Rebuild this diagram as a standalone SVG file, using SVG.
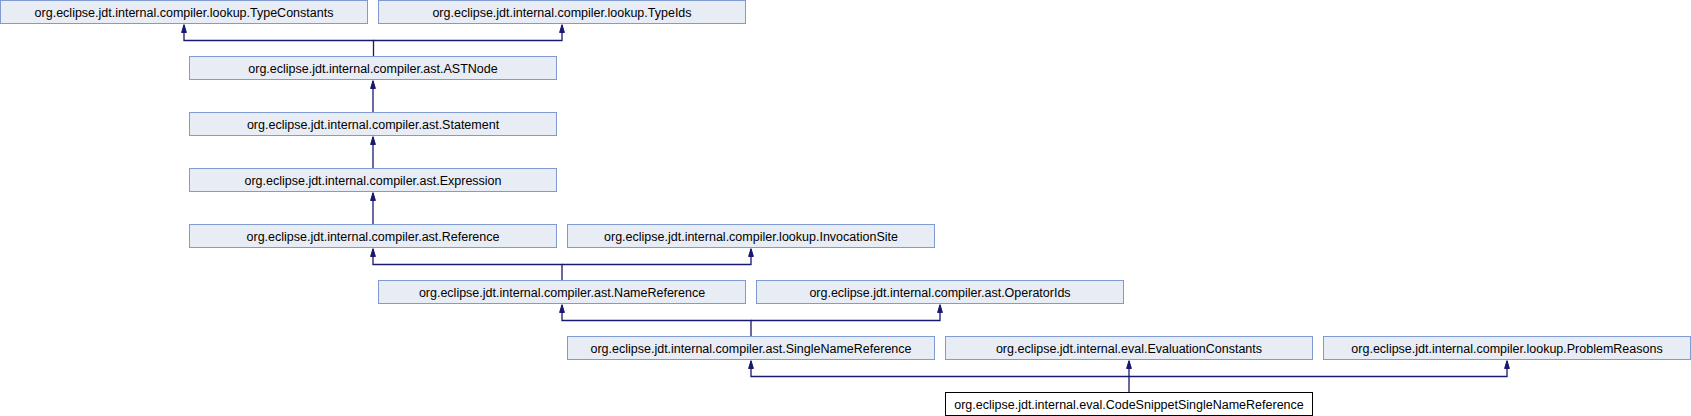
<svg xmlns="http://www.w3.org/2000/svg" width="1691" height="416" viewBox="0 0 1691 416">
<style>
.n rect{fill:#e8ecf5;stroke:#7f9bd2;stroke-width:1}
.n text{font-family:"Liberation Sans",Arial,sans-serif;font-size:12.5px;fill:#000;text-anchor:middle}
#cur rect{fill:#ffffff;stroke:#000000}
.e path{fill:none;stroke:#191970;stroke-width:1.3}
</style>
<defs>
<marker id="ah" markerUnits="userSpaceOnUse" markerWidth="8" markerHeight="10" viewBox="0 0 8 10" refX="8" refY="5" orient="auto">
<path d="M0,2.6 L8,5 L0,7.4 Z" fill="#191970" stroke="#191970" stroke-width="1"/>
</marker>
</defs>
<rect width="1691" height="416" fill="#ffffff"/>
<g class="e" id="edges">
<path d="M373.5,56.5 V40.5 H184 V24.5" marker-end="url(#ah)"/>
<path d="M373.5,40.5 H562 V24.5" marker-end="url(#ah)"/>
<path d="M373,112.5 V80.5" marker-end="url(#ah)"/>
<path d="M373,168.5 V136.5" marker-end="url(#ah)"/>
<path d="M373,224.5 V192.5" marker-end="url(#ah)"/>
<path d="M562,280.5 V264.5 H373 V248.5" marker-end="url(#ah)"/>
<path d="M562,264.5 H751 V248.5" marker-end="url(#ah)"/>
<path d="M751,336.5 V320.5 H562 V304.5" marker-end="url(#ah)"/>
<path d="M751,320.5 H940 V304.5" marker-end="url(#ah)"/>
<path d="M1129,392.5 V360.5" marker-end="url(#ah)"/>
<path d="M1129,376.5 H751 V360.5" marker-end="url(#ah)"/>
<path d="M1129,376.5 H1507 V360.5" marker-end="url(#ah)"/>
</g>
<g class="n" id="TypeConstants"><rect x="0.5" y="0.5" width="367" height="23"/><text x="184" y="16.5">org.eclipse.jdt.internal.compiler.lookup.TypeConstants</text></g>
<g class="n" id="TypeIds"><rect x="378.5" y="0.5" width="367" height="23"/><text x="562" y="16.5">org.eclipse.jdt.internal.compiler.lookup.TypeIds</text></g>
<g class="n" id="ASTNode"><rect x="189.5" y="56.5" width="367" height="23"/><text x="373" y="72.5">org.eclipse.jdt.internal.compiler.ast.ASTNode</text></g>
<g class="n" id="Statement"><rect x="189.5" y="112.5" width="367" height="23"/><text x="373" y="128.5">org.eclipse.jdt.internal.compiler.ast.Statement</text></g>
<g class="n" id="Expression"><rect x="189.5" y="168.5" width="367" height="23"/><text x="373" y="184.5">org.eclipse.jdt.internal.compiler.ast.Expression</text></g>
<g class="n" id="Reference"><rect x="189.5" y="224.5" width="367" height="23"/><text x="373" y="240.5">org.eclipse.jdt.internal.compiler.ast.Reference</text></g>
<g class="n" id="InvocationSite"><rect x="567.5" y="224.5" width="367" height="23"/><text x="751" y="240.5">org.eclipse.jdt.internal.compiler.lookup.InvocationSite</text></g>
<g class="n" id="NameReference"><rect x="378.5" y="280.5" width="367" height="23"/><text x="562" y="296.5">org.eclipse.jdt.internal.compiler.ast.NameReference</text></g>
<g class="n" id="OperatorIds"><rect x="756.5" y="280.5" width="367" height="23"/><text x="940" y="296.5">org.eclipse.jdt.internal.compiler.ast.OperatorIds</text></g>
<g class="n" id="SingleNameReference"><rect x="567.5" y="336.5" width="367" height="23"/><text x="751" y="352.5">org.eclipse.jdt.internal.compiler.ast.SingleNameReference</text></g>
<g class="n" id="EvaluationConstants"><rect x="945.5" y="336.5" width="367" height="23"/><text x="1129" y="352.5">org.eclipse.jdt.internal.eval.EvaluationConstants</text></g>
<g class="n" id="ProblemReasons"><rect x="1323.5" y="336.5" width="367" height="23"/><text x="1507" y="352.5">org.eclipse.jdt.internal.compiler.lookup.ProblemReasons</text></g>
<g class="n" id="cur"><rect x="945.5" y="392.5" width="367" height="23"/><text x="1129" y="408.5">org.eclipse.jdt.internal.eval.CodeSnippetSingleNameReference</text></g>
</svg>
